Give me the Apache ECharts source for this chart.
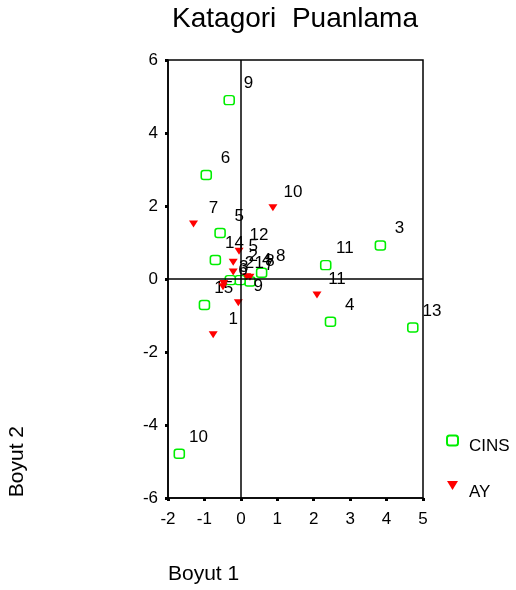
<!DOCTYPE html>
<html>
<head>
<meta charset="utf-8">
<script src="https://cdn.jsdelivr.net/npm/echarts@6/dist/echarts.min.js"></script>
<style>html,body{margin:0;padding:0;background:#fff}#c{width:516px;height:590px}</style>
</head>
<body>
<div id="c"></div>
<script>
// CINS points
const cinsLabels = ['9','6','5','14','11','3','4','13','10','15','8','7','1','2'];
const cinsX = [-0.32, -0.95, -0.57, -0.70, 2.33, 3.83, 2.46, 4.72, -1.69, -1.00, 0.57, 0.25, -0.02, -0.29];
const cinsY = [4.90, 2.85, 1.26, 0.52, 0.38, 0.92, -1.17, -1.33, -4.79, -0.71, 0.17, -0.07, -0.03, -0.03];
// AY points
const ayLabels = ['7','10','12','5','2','11','9','1','6','3','4','8'];
const ayX = [-1.30, 0.88, -0.05, -0.21, -0.21, 2.09, -0.07, -0.76, -0.49, -0.47, 0.16, 0.25];
const ayY = [1.51, 1.95, 0.76, 0.46, 0.19, -0.44, -0.65, -1.53, -0.21, -0.12, 0.06, 0.05];
// axis ticks
const xTicks = [-2, -1, 0, 1, 2, 3, 4, 5];
const yTicks = [-6, -4, -2, 0, 2, 4, 6];

const FONT = 'Liberation Sans, Arial, sans-serif';
const toData = (xs, ys, ls) => xs.map((x, i) => ({ name: ls[i], value: [x, ys[i]] }));
const pointLabel = (w, h) => ({
  show: true, position: [w / 2 + 20, h / 2 - 16], align: 'center', verticalAlign: 'middle',
  formatter: p => p.name,
  fontFamily: FONT, fontSize: 17, color: '#000', textBorderWidth: 0
});

const chart = echarts.init(document.getElementById('c'), null, { renderer: 'canvas' });
chart.setOption({
  animation: false,
  backgroundColor: '#fff',
  textStyle: { fontFamily: FONT },
  title: {
    text: 'Katagori  Puanlama',
    left: 290, top: 0, textAlign: 'center',
    textStyle: { fontFamily: FONT, fontSize: 28, fontWeight: 'normal', color: '#000' }
  },
  legend: {
    orient: 'vertical', left: 441, top: 425,
    itemWidth: 11, itemHeight: 10, itemGap: 20,
    formatter: name => (name === 'AY' ? '{sa| }\n{t|' : '{sc| }\n{t|') + name + '}',
    textStyle: {
      fontFamily: FONT, fontSize: 17, color: '#000', padding: [0, 0, 0, 6],
      rich: {
        sc: { fontSize: 1, lineHeight: 12 },
        sa: { fontSize: 1, lineHeight: 14 },
        t: { fontFamily: FONT, fontSize: 17, color: '#000', lineHeight: 20 }
      }
    },
    data: ['CINS', 'AY']
  },
  grid: {
    left: 168, right: 93, top: 60, bottom: 92,
    show: true, borderColor: '#000', borderWidth: 1.5, backgroundColor: 'transparent'
  },
  xAxis: {
    type: 'value', min: xTicks[0], max: xTicks[xTicks.length - 1], interval: 1,
    name: 'Boyut 1', nameLocation: 'start', nameGap: 0,
    nameTextStyle: { fontFamily: FONT, fontSize: 21, color: '#000', align: 'left', verticalAlign: 'top', padding: [66, 0, 0, 0] },
    axisLine: { show: true, onZero: false, lineStyle: { color: '#000', width: 1.5 } },
    axisTick: { show: true, length: 3, lineStyle: { color: '#000', width: 3 } },
    axisLabel: { fontFamily: FONT, fontSize: 17, color: '#000', margin: 13 },
    splitLine: { show: false }
  },
  yAxis: {
    type: 'value', min: yTicks[0], max: yTicks[yTicks.length - 1], interval: 2,
    axisLine: { show: true, onZero: false, lineStyle: { color: '#000', width: 1.5 } },
    axisTick: { show: true, length: 3, lineStyle: { color: '#000', width: 3 } },
    axisLabel: { fontFamily: FONT, fontSize: 17, color: '#000', margin: 10 },
    splitLine: { show: false }
  },
  graphic: [{
    type: 'text', left: 7, top: 426, rotation: Math.PI / 2,
    style: { text: 'Boyut 2', fontFamily: FONT, fontSize: 21, fill: '#000' }
  }],
  series: [
    {
      name: 'CINS', type: 'scatter', z: 3,
      symbol: 'roundRect', symbolSize: [10, 9],
      itemStyle: { color: '#fff', borderColor: '#00ee00', borderWidth: 1.5, opacity: 1 },
      label: pointLabel(10, 9),
      data: toData(cinsX, cinsY, cinsLabels),
      markLine: {
        silent: true, symbol: 'none', label: { show: false },
        lineStyle: { color: '#000', width: 1.5, type: 'solid' },
        data: [{ xAxis: 0 }, { yAxis: 0 }]
      }
    },
    {
      name: 'AY', type: 'scatter', z: 4,
      symbol: 'path://M0,0 L10,0 L5,8 Z', symbolSize: [9, 7],
      itemStyle: { color: '#ff0000', opacity: 1 },
      label: pointLabel(9, 7),
      data: toData(ayX, ayY, ayLabels)
    }
  ]
});
</script>
</body>
</html>
